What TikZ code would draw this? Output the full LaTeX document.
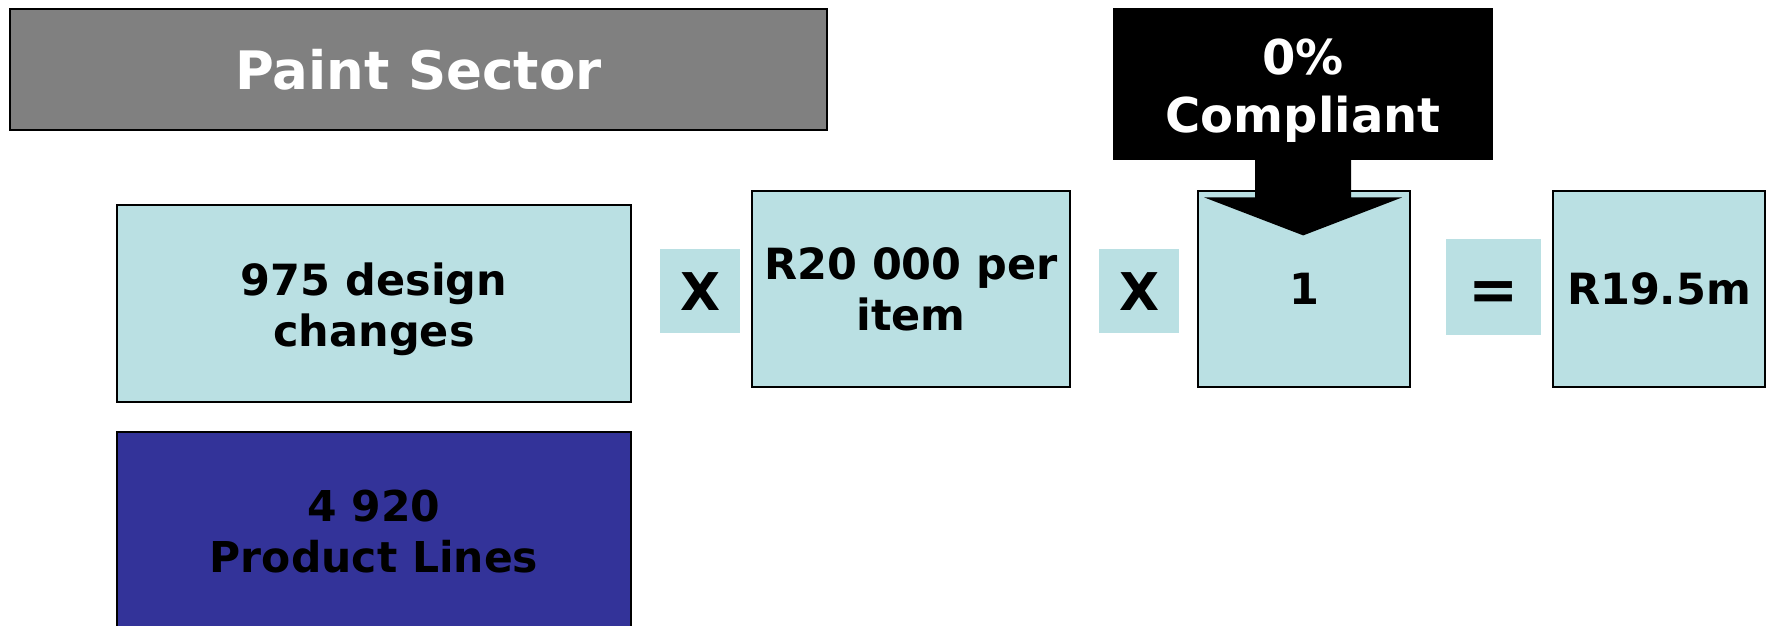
\documentclass[tikz,border=0pt]{standalone}
\usepackage{fontspec}
\setmainfont{DejaVu Sans}
\definecolor{lb}{RGB}{186,224,227}
\definecolor{navy}{RGB}{51,51,153}
\definecolor{midgray}{RGB}{128,128,128}
\begin{document}
\begin{tikzpicture}[x=1pt,y=-1pt,
  box/.style={draw=black,line width=2pt,fill=lb,anchor=north west,inner sep=0pt,align=center,
    font=\bfseries\fontsize{43}{51}\selectfont},
  op/.style={fill=lb,anchor=north west,inner sep=0pt,font=\bfseries\fontsize{52}{60}\selectfont}]
\useasboundingbox (0,0) rectangle (1770,626);
% title
\node[box,fill=midgray,text=white,minimum width=817pt,minimum height=121pt,
  font=\bfseries\fontsize{53}{63}\selectfont] (paint) at (9,8) {Paint Sector};
% left column
\node[box,minimum width=514pt,minimum height=197pt] (design) at (116,204)
  {\rule{0pt}{45pt}975 design\\changes};
\node[box,fill=navy,minimum width=514pt,minimum height=200pt,
  font=\bfseries\fontsize{42.5}{51}\selectfont] (lines) at (116,431)
  {4 920\\Product Lines};
% formula row
\node[op,minimum width=80pt,minimum height=84pt] (x1) at (660,249) {X};
\node[box,minimum width=318pt,minimum height=196pt] (rate) at (751,190) {R20 000 per\\item};
\node[op,minimum width=80pt,minimum height=84pt] (x2) at (1099,249) {X};
\node[box,minimum width=212pt,minimum height=196pt] (one) at (1197,190) {1};
\node[op,minimum width=95pt,minimum height=96pt,font=\bfseries\fontsize{60}{66}\selectfont]
  (eq) at (1446,239) {\raisebox{-23pt}[0pt][0pt]{=}};
\node[box,minimum width=212pt,minimum height=196pt] (total) at (1552,190) {R19.5m};
% callout
\node[fill=black,text=white,anchor=north west,inner sep=0pt,align=center,
  minimum width=380pt,minimum height=152pt,font=\bfseries\fontsize{48}{58}\selectfont]
  (callout) at (1113,8) {\rule{0pt}{48pt}0\%\\Compliant};
\fill[black] ([xshift=-48pt,yshift=1pt]callout.south) -- ++(0,38) -- ++(-51,0)
  -- ++(99,38) -- ++(99,-38) -- ++(-51,0) -- ++(0,-38) -- cycle;
\end{tikzpicture}
\end{document}
